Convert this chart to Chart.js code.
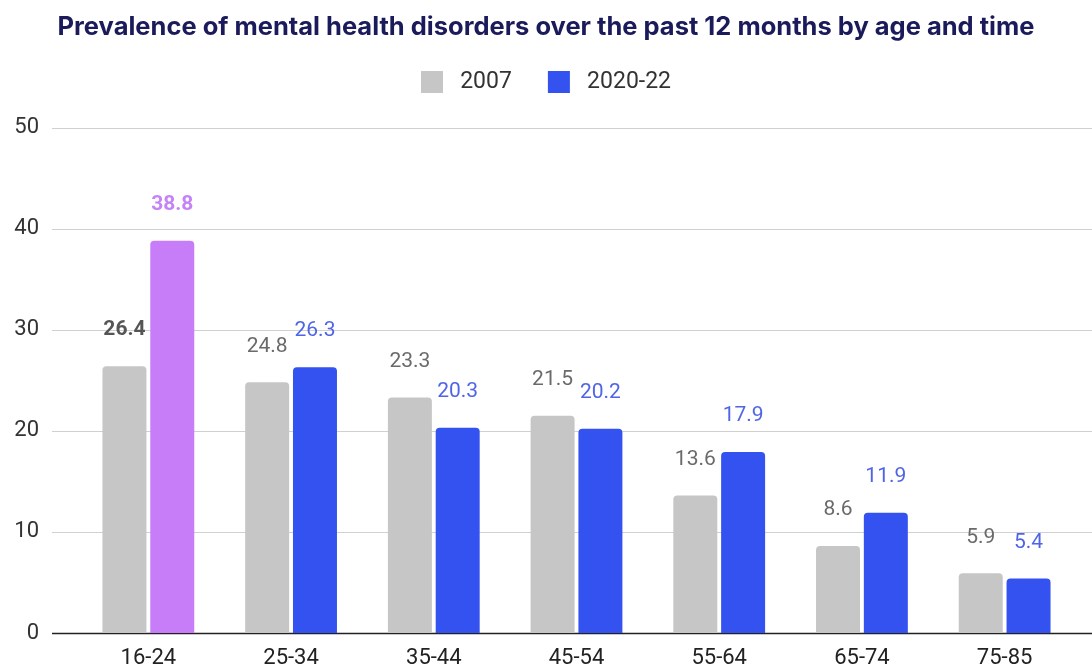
<!DOCTYPE html>
<html>
<head>
<meta charset="utf-8">
<script src="https://cdn.jsdelivr.net/npm/chart.js@4.4.0/dist/chart.umd.min.js"></script>
<style>
  html, body { margin: 0; padding: 0; background: #fff; }
  .grafico { width: 1092px; height: 667px; }
</style>
</head>
<body>
<div class="grafico"><canvas id="myChart" width="1092" height="667"></canvas></div>
<script>
const faixas = ['16-24', '25-34', '35-44', '45-54', '55-64', '65-74', '75-85']
const valores2007 = [26.4, 24.8, 23.3, 21.5, 13.6, 8.6, 5.9]
const valores2020 = [38.8, 26.3, 20.3, 20.2, 17.9, 11.9, 5.4]
const ticksY = [0, 10, 20, 30, 40, 50]

const cinza = '#c6c6c6'
const azul = '#3352f0'
const roxo = '#c77df7'

// linhas de grade mais largas que a area do grafico
const gradePlugin = {
    id: 'grade',
    afterInit(chart) {
        // espaco extra abaixo da legenda
        const fitOriginal = chart.legend.fit
        chart.legend.fit = function () {
            fitOriginal.call(this)
            this.height += 24
        }
    },
    beforeDatasetsDraw(chart) {
        const ctx = chart.ctx
        const y = chart.scales.y
        ctx.save()
        ticksY.forEach(v => {
            const py = Math.round(y.getPixelForValue(v)) + 0.5
            ctx.beginPath()
            ctx.strokeStyle = v === 0 ? '#222' : '#d0d0d0'
            ctx.lineWidth = v === 0 ? 1.5 : 1
            ctx.moveTo(52, py)
            ctx.lineTo(1092, py)
            ctx.stroke()
        })
        ctx.restore()
    }
}

// rotulos de valor acima das barras
const rotulosPlugin = {
    id: 'rotulos',
    afterDatasetsDraw(chart) {
        const ctx = chart.ctx
        ctx.save()
        ctx.textAlign = 'center'
        ctx.textBaseline = 'middle'
        chart.data.datasets.forEach((ds, d) => {
            chart.getDatasetMeta(d).data.forEach((bar, i) => {
                let cor
                if (d === 0) cor = i === 0 ? '#555' : '#6a6a6a'
                else cor = i === 0 ? '#c583f7' : '#5065e6'
                ctx.fillStyle = cor
                ctx.font = (i === 0 ? 'bold ' : '') + '21px Roboto'
                ctx.fillText(ds.data[i].toFixed(1), bar.x, bar.y - 36)
            })
        })
        ctx.restore()
    }
}

const data = {
    labels: faixas,
    datasets: [
        {
            label: '2007',
            data: valores2007,
            backgroundColor: cinza,
            borderRadius: { topLeft: 4, topRight: 4 },
            borderSkipped: 'start',
            categoryPercentage: 0.67,
            barPercentage: 0.92
        },
        {
            label: '2020-22',
            data: valores2020,
            backgroundColor: ctx => ctx.dataIndex === 0 ? roxo : azul,
            borderRadius: { topLeft: 4, topRight: 4 },
            borderSkipped: 'start',
            categoryPercentage: 0.67,
            barPercentage: 0.92
        }
    ]
}

const config = {
    type: 'bar',
    data: data,
    options: {
        responsive: false,
        animation: false,
        layout: { padding: 0 },
        plugins: {
            title: {
                display: true,
                text: 'Prevalence of mental health disorders over the past 12 months by age and time',
                color: '#1b1b5c',
                font: { family: 'Inter', size: 25.5, weight: 'bold' },
                padding: { top: 12, bottom: -8 }
            },
            legend: {
                display: true,
                labels: {
                    boxWidth: 22,
                    boxHeight: 22,
                    color: '#333',
                    font: { family: 'Roboto', size: 23 },
                    padding: 36,
                    generateLabels(chart) {
                        const itens = Chart.defaults.plugins.legend.labels.generateLabels(chart)
                        itens.forEach((item, i) => {
                            item.fillStyle = i === 0 ? cinza : azul
                            item.strokeStyle = item.fillStyle
                            item.lineWidth = 0
                            item.text = ' ' + item.text
                        })
                        return itens
                    }
                }
            },
            tooltip: { enabled: false }
        },
        scales: {
            x: {
                grid: { display: false, drawTicks: false },
                border: { display: false },
                ticks: { color: '#222', font: { family: 'Roboto', size: 22 }, padding: 12 },
                afterFit(scale) {
                    scale.height = 34
                    scale.paddingLeft = 0
                    scale.paddingRight = 0
                }
            },
            y: {
                min: 0,
                max: 50,
                grid: { display: false, drawTicks: false },
                border: { display: false },
                ticks: { stepSize: 10, color: '#333', font: { family: 'Roboto', size: 22 }, padding: 38 },
                afterFit(scale) {
                    scale.width = 77
                    scale.paddingTop = 0
                    scale.paddingBottom = 0
                }
            },
            // margem da direita, sem marcas
            margem: {
                position: 'right',
                grid: { display: false, drawTicks: false },
                border: { display: false },
                ticks: { display: false },
                afterFit(scale) {
                    scale.width = 16
                    scale.paddingTop = 0
                    scale.paddingBottom = 0
                }
            }
        }
    },
    plugins: [gradePlugin, rotulosPlugin]
}

let myChart = new Chart(document.getElementById('myChart').getContext('2d'), config)
</script>
</body>
</html>
